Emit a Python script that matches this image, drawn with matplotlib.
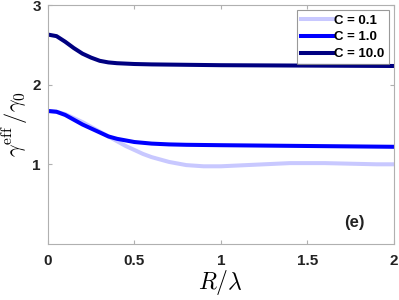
import matplotlib
matplotlib.use('Agg')
import matplotlib.pyplot as plt

# curve data
r_c10 = [0, 0.05, 0.1, 0.15, 0.2, 0.25, 0.3, 0.35, 0.4, 0.5, 0.6, 0.8, 1.0, 1.5, 2.0]
g_c10 = [2.63, 2.61, 2.54, 2.46, 2.39, 2.34, 2.30, 2.28, 2.27, 2.26, 2.255, 2.25, 2.245, 2.24, 2.235]

r_c1 = [0, 0.05, 0.1, 0.15, 0.2, 0.25, 0.3, 0.35, 0.4, 0.45, 0.5, 0.6, 0.7, 0.8,
        1.0, 1.25, 1.5, 1.75, 2.0]
g_c1 = [1.67, 1.66, 1.62, 1.56, 1.50, 1.45, 1.40, 1.35, 1.32, 1.30, 1.28, 1.26, 1.25, 1.245,
        1.24, 1.235, 1.23, 1.225, 1.22]

r_c01 = [0, 0.05, 0.1, 0.15, 0.2, 0.25, 0.3, 0.35, 0.4, 0.45, 0.5, 0.55, 0.6, 0.65, 0.7,
         0.75, 0.8, 0.9, 1.0, 1.1, 1.2, 1.3, 1.4, 1.5, 1.6, 1.7, 1.8, 1.9, 2.0]
g_c01 = [1.67, 1.66, 1.63, 1.58, 1.53, 1.47, 1.41, 1.35, 1.29, 1.23, 1.18, 1.13, 1.09, 1.06, 1.03,
         1.01, 0.99, 0.975, 0.975, 0.985, 0.995, 1.005, 1.015, 1.015, 1.015, 1.01, 1.005, 1.0, 1.0]

labels = ['C = 0.1', 'C = 1.0', 'C = 10.0']
xticks = [0, 0.5, 1, 1.5, 2]
xticklabels = ['0', '0.5', '1', '1.5', '2']
yticks = [1, 2, 3]

plt.rcParams['mathtext.fontset'] = 'cm'

fig = plt.figure(figsize=(3.99, 3.0), dpi=100)
ax = fig.add_axes([0.120, 0.187, 0.867, 0.796])

lw = 2.9
ax.plot(r_c01, g_c01, color='#c8c8ff', lw=lw, label=labels[0])
ax.plot(r_c1, g_c1, color='#0000ff', lw=lw, label=labels[1])
ax.plot(r_c10, g_c10, color='#000080', lw=lw, label=labels[2])

ax.set_xlim(0, 2)
ax.set_ylim(0, 3)
ax.set_xticks(xticks)
ax.set_xticklabels(xticklabels)
ax.set_yticks(yticks)

for s in ax.spines.values():
    s.set_color('#b0b0b0')
    s.set_linewidth(0.8)
ax.tick_params(direction='in', top=True, right=True, length=3, color='#b0b0b0',
               labelcolor='#222222')
ax.tick_params(axis='x', pad=7)
ax.tick_params(axis='y', pad=5)
for t in ax.get_xticklabels() + ax.get_yticklabels():
    t.set_fontfamily('Liberation Sans')
    t.set_fontweight('bold')
    t.set_fontsize(11)

ax.set_xlabel(r'$R/\lambda$', fontsize=17, labelpad=0)
ax.set_ylabel(r'$\gamma^{\rm eff}\,/\gamma_0$', fontsize=16, labelpad=1)

leg = ax.legend(loc='upper right', handlelength=2.5, handletextpad=0.05, borderpad=0.3,
                labelspacing=0.35, fancybox=False, borderaxespad=0.4,
                prop={'family': 'Liberation Sans', 'weight': 'bold', 'size': 9.5})
leg.get_frame().set_edgecolor('#808080')
leg.get_frame().set_linewidth(0.8)

ax.text(1.77, 0.27, '(e)', fontsize=12, fontweight='bold', family='Liberation Sans',
        color='#222222', ha='center', va='center')

fig.savefig('out.png', dpi=100)
